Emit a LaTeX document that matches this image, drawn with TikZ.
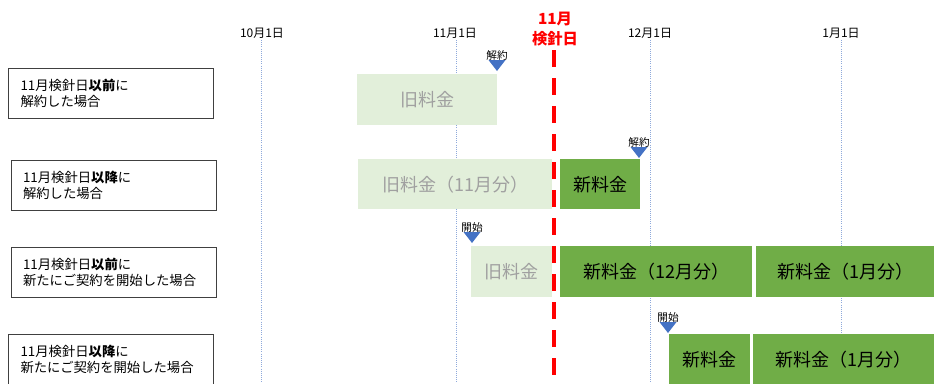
\documentclass[tikz,border=0pt]{standalone}
\usepackage{fontspec}
\setmainfont{Noto Sans CJK JP}
\definecolor{oldfill}{HTML}{E2EFDA}
\definecolor{oldtext}{HTML}{A0A0A0}
\definecolor{newfill}{HTML}{70AD47}
\definecolor{markblue}{HTML}{4472C4}
\definecolor{gridblue}{HTML}{8EA9DB}
\definecolor{boxline}{HTML}{404040}
\newcommand\feebar[7]{%
  \node[#5, minimum width={(#3-#1)*0.75pt}, minimum height={(#4-#2)*0.75pt}, anchor=north west] (#7) at (#1,#2) {#6};}
\newcommand\mymarker[4]{% x, tip y, label, name
  \fill[markblue] (#1-8.5,#2-11) -- (#1+8.5,#2-11) -- (#1,#2) -- cycle;
  \node[font=\fontsize{8}{9}\selectfont, inner sep=0, anchor=south] (#4) at (#1,#2-10) {#3};}
\begin{document}
\begin{tikzpicture}[x=0.75pt,y=-0.75pt,
  casebox/.style={draw=boxline, line width=0.8pt, fill=white, minimum width={205*0.75pt}, minimum height={50*0.75pt},
    inner xsep=9pt, inner ysep=0pt, text width={181*0.75pt}, align=left, anchor=north west,
    font=\fontsize{10}{12}\selectfont},
  oldbar/.style={fill=oldfill, text=oldtext, inner sep=0, font=\fontsize{13.5}{15}\selectfont},
  newbar/.style={fill=newfill, text=black, inner sep=0, font=\fontsize{13.5}{15}\selectfont},
  datelbl/.style={font=\fontsize{9}{10}\selectfont, inner sep=0},
  gridline/.style={gridblue, densely dotted, line width=0.6pt}]
\useasboundingbox (0,0) rectangle (934,383);
% date labels and grid lines
\node[datelbl] (d10) at (262,33) {10月1日};
\node[datelbl] (d11) at (455,33) {11月1日};
\node[datelbl] (d12) at (650,33) {12月1日};
\node[datelbl] (d01) at (841,33) {1月1日};
\coordinate (g10) at (261.5,40); \coordinate (g11) at (456,40);
\coordinate (g12) at (650,40); \coordinate (g01) at (841.5,40);
\coordinate (gb10) at (261.5,383); \coordinate (gb11) at (456,383);
\coordinate (gb12) at (650,383); \coordinate (gb01) at (841.5,383);
\draw[gridline] (g10) -- (gb10);
\draw[gridline] (g11) -- (gb11);
\draw[gridline] (g12) -- (gb12);
\draw[gridline] (g01) -- (gb01);
% case boxes
\node[casebox] (c1) at (8,68) {11月検針日\textbf{以前}に\\解約した場合};
\node[casebox] (c2) at (10.5,160) {11月検針日\textbf{以降}に\\解約した場合};
\node[casebox] (c3) at (10.5,247) {11月検針日\textbf{以前}に\\新たにご契約を開始した場合};
\node[casebox] (c4) at (8,334) {11月検針日\textbf{以降}に\\新たにご契約を開始した場合};
% bars row 1
\feebar{357}{74}{497}{125}{oldbar}{旧料金}{r1o}
% row 2
\feebar{358}{159}{552}{209}{oldbar}{旧料金（11月分）}{r2o}
\feebar{560}{159}{640}{209}{newbar}{新料金}{r2n}
% row 3
\feebar{471}{246}{552}{297}{oldbar}{旧料金}{r3o}
\feebar{560}{246}{752}{297}{newbar}{新料金（12月分）}{r3n}
\feebar{756}{246}{934}{297}{newbar}{新料金（1月分）}{r3j}
% row 4
\feebar{669}{334}{750}{384}{newbar}{新料金}{r4n}
\feebar{753}{334}{934}{384}{newbar}{新料金（1月分）}{r4j}
% markers
\mymarker{497}{71}{解約}{m1}
\mymarker{639}{158}{解約}{m2}
\mymarker{472}{243}{開始}{m3}
\mymarker{668}{333}{開始}{m4}
% meter reading day
\node[text=red, font=\bfseries\fontsize{11.5}{14.5}\selectfont, align=center, inner sep=0] (kd) at (555,29) {11月\\検針日};
\coordinate (kt) at (554,50); \coordinate (kb) at (554,383);
\draw[red, line width=3pt, dash pattern=on 12.75pt off 8.25pt] (kt) -- (kb);
\end{tikzpicture}
\end{document}
